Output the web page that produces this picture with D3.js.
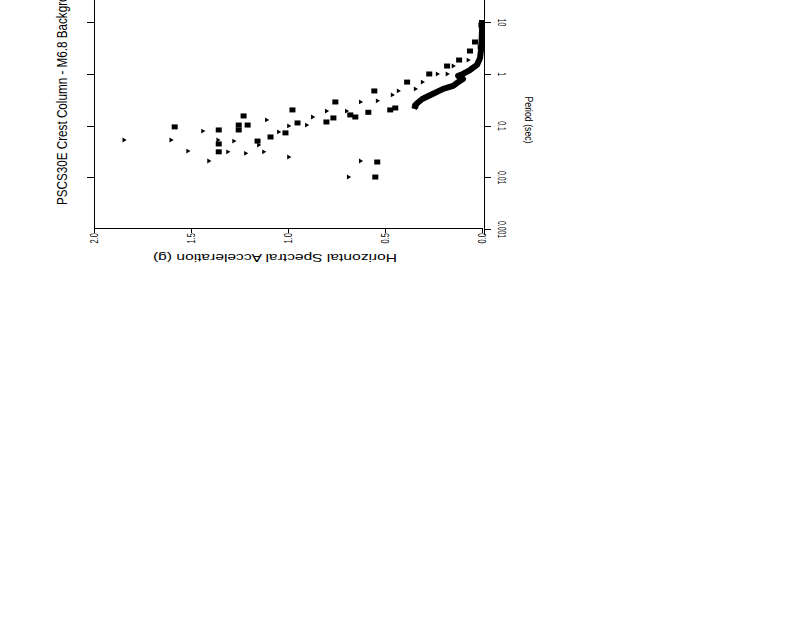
<!DOCTYPE html>
<html>
<head>
<meta charset="UTF-8">
<title>PSCS30E Crest Column - M6.8 Background</title>
<style>
    body { margin: 0; background: #fff; }
    svg text { font-family: "Liberation Sans", Arial, sans-serif; fill: #000; }
    .axis path, .axis line { stroke: #000; shape-rendering: crispEdges; }
</style>
</head>
<body>
<script src="https://d3js.org/d3.v7.min.js"></script>
<svg id="svg" width="800" height="618"></svg>
<script>
    // tick values
    const accTicks = [0, 0.5, 1.0, 1.5, 2.0];
    const periodTicks = [0.001, 0.01, 0.1, 1, 10];
    const frameTicks = [0.01, 0.1, 1, 10];

    // [period (sec), spectral acceleration (g)]
    const squarePts = [
        [8.75, 0.003], [4.11, 0.036], [2.75, 0.062], [1.84, 0.118], [1.41, 0.180],
        [0.99, 0.272], [0.69, 0.386], [0.465, 0.555], [0.285, 0.756], [0.20, 0.977],
        [0.117, 0.802], [0.14, 0.766], [0.16, 0.679], [0.146, 0.653], [0.18, 0.586],
        [0.20, 0.473], [0.218, 0.447], [0.072, 1.013], [0.112, 0.951], [0.153, 1.229],
        [0.102, 1.208], [0.102, 1.254], [0.082, 1.254], [0.082, 1.357], [0.094, 1.584],
        [0.060, 1.090], [0.050, 1.157], [0.044, 1.357], [0.031, 1.357], [0.0197, 0.540],
        [0.0101, 0.550], [0.238, 0.344]
    ];
    const trianglePts = [
        [3.29, 0.015], [1.84, 0.072], [1.41, 0.149], [0.99, 0.231], [0.99, 0.180],
        [0.69, 0.308], [0.51, 0.344], [0.465, 0.432], [0.39, 0.463], [0.30, 0.540],
        [0.285, 0.627], [0.19, 0.699], [0.19, 0.802], [0.146, 0.874], [0.102, 0.905],
        [0.098, 0.997], [0.075, 1.049], [0.128, 1.111], [0.050, 1.280], [0.042, 1.152],
        [0.031, 1.126], [0.0525, 1.362], [0.078, 1.440], [0.032, 1.517], [0.0206, 1.409],
        [0.0525, 1.846], [0.0525, 1.604], [0.0206, 0.627], [0.0101, 0.689], [0.0246, 0.997],
        [0.031, 1.311], [0.029, 1.219]
    ];
    const targetCurve = [
        [10.9, 0.0], [7.0, 0.0], [4.49, 0.002], [2.88, 0.005], [2.02, 0.010],
        [1.48, 0.026], [1.18, 0.062], [0.99, 0.098], [0.91, 0.123], [0.79, 0.098],
        [0.69, 0.123], [0.58, 0.149], [0.51, 0.200], [0.41, 0.252], [0.325, 0.308],
        [0.26, 0.339], [0.21, 0.350]
    ];

    var svg = d3.select("#svg");
    svg.append("rect").attr("width", 800).attr("height", 618).attr("fill", "#fff");

    // page is rotated: acceleration runs right-to-left, period runs bottom-to-top
    var x = d3.scaleLinear().domain([0, 2]).range([482, 94]),
        y = d3.scaleLog().domain([0.001, 10]).range([229, 22]);

    function squeeze(sel, k) {
        sel.each(function () {
            var L = this.getComputedTextLength();
            d3.select(this).attr("textLength", L * k).attr("lengthAdjust", "spacingAndGlyphs");
        });
    }

    // acceleration axis (bottom)
    var gx = svg.append("g").attr("class", "axis")
        .attr("transform", "translate(0," + 228 + ")")
        .call(d3.axisBottom(x).tickValues(accTicks).tickSize(5).tickSizeOuter(0).tickFormat(d3.format(".1f")));
    gx.selectAll("text")
        .attr("x", null).attr("y", null).attr("dy", null)
        .attr("text-anchor", "end")
        .style("font-size", "11px")
        .attr("transform", "translate(3.5,5) rotate(-90)")
        .call(squeeze, 0.68);

    // period axis (right)
    var gy = svg.append("g").attr("class", "axis")
        .attr("transform", "translate(484,0)")
        .call(d3.axisRight(y).tickValues(periodTicks).tickSize(7).tickSizeOuter(0)
            .tickFormat(d => d >= 1 ? d3.format("d")(d) : String(d)));
    gy.selectAll("text")
        .attr("x", null).attr("y", null).attr("dy", null)
        .attr("text-anchor", "middle")
        .style("font-size", "10.5px")
        .attr("transform", "translate(14,0) rotate(90)")
        .call(squeeze, 0.65);
    gy.append("line").attr("x1", 0).attr("x2", 0).attr("y1", 0).attr("y2", y(0.001) + 6).attr("stroke", "#000");

    // opposite frame with ticks
    var gf = svg.append("g").attr("class", "axis")
        .attr("transform", "translate(" + x(2) + ",0)")
        .call(d3.axisLeft(y).tickValues(frameTicks).tickSize(7).tickSizeOuter(0).tickFormat(""));
    gf.append("line").attr("x1", 0).attr("x2", 0).attr("y1", 0).attr("y2", y(0.001)).attr("stroke", "#000");

    // target spectrum
    var line = d3.line().x(d => x(d[1])).y(d => y(d[0]));
    svg.append("path").datum(targetCurve)
        .attr("d", line)
        .attr("fill", "none").attr("stroke", "#000")
        .attr("stroke-width", 6).attr("stroke-linejoin", "round");

    // record points
    svg.append("g").selectAll("rect").data(squarePts).join("rect")
        .attr("x", d => x(d[1]) - 3).attr("y", d => y(d[0]) - 2.5)
        .attr("width", 6).attr("height", 5).attr("fill", "#000");

    var tri = d3.symbol().type(d3.symbolTriangle).size(10);
    svg.append("g").selectAll("path").data(trianglePts).join("path")
        .attr("d", tri)
        .attr("transform", d => "translate(" + x(d[1]) + "," + y(d[0]) + ") rotate(90)")
        .attr("fill", "#000");

    // titles
    svg.append("text")
        .attr("transform", "translate(67,205) rotate(-90)")
        .attr("text-anchor", "start")
        .style("font-size", "14.5px")
        .attr("textLength", 229).attr("lengthAdjust", "spacingAndGlyphs")
        .text("PSCS30E Crest Column - M6.8 Background");

    svg.append("text")
        .attr("transform", "translate(275,254) scale(1,0.75) rotate(180)")
        .attr("text-anchor", "middle")
        .style("font-size", "15.5px")
        .attr("textLength", 244).attr("lengthAdjust", "spacingAndGlyphs")
        .text("Horizontal Spectral Acceleration (g)");

    svg.append("text")
        .attr("transform", "translate(525,120) rotate(90)")
        .attr("text-anchor", "middle")
        .style("font-size", "11px")
        .attr("textLength", 47).attr("lengthAdjust", "spacingAndGlyphs")
        .text("Period (sec)");
</script>
</body>
</html>
